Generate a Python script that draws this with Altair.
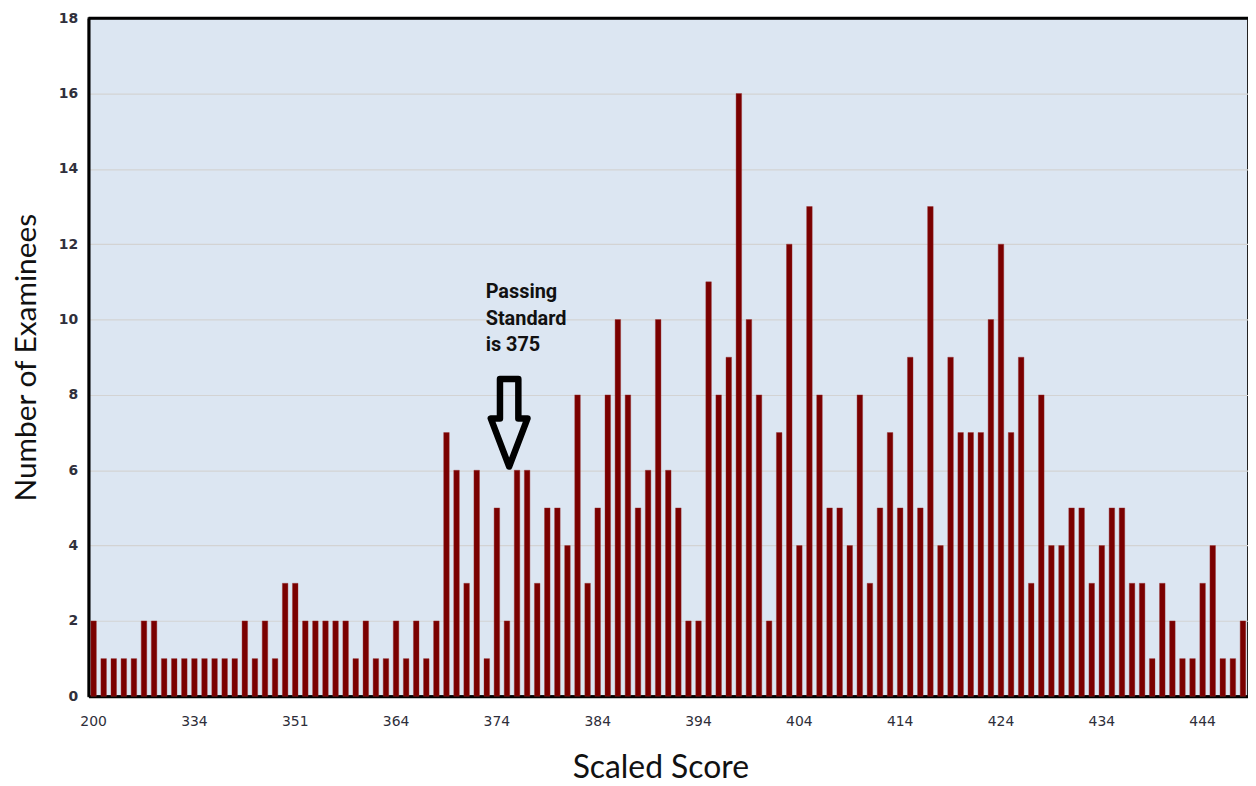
import altair as alt
import pandas as pd

scores = [200, 305, 312, 318, 322, 325, 327, 329, 331, 333,
          334, 335, 337, 339, 341, 343, 345, 347, 348, 350,
          351, 352, 353, 355, 356, 357, 359, 360, 361, 363] + list(range(364, 449))

counts = [2, 1, 1, 1, 1, 2, 2, 1, 1, 1, 1, 1, 1, 1, 1, 2, 1, 2, 1, 3, 3, 2, 2, 2, 2, 2, 1, 2, 1,
          1, 2, 1, 2, 1, 2, 7, 6, 3, 6, 1, 5, 2, 6, 6, 3, 5, 5, 4, 8, 3, 5, 8, 10, 8,
          5, 6, 10, 6, 5, 2, 2, 11, 8, 9, 16, 10, 8, 2, 7, 12, 4, 13, 8, 5, 5, 4, 8, 3, 5, 7, 5, 9, 5, 13, 4, 9,
          7, 7, 7, 10, 12, 7, 9, 3, 8, 4, 4, 5, 5, 3, 4, 5, 5, 3, 3, 1, 3, 2, 1, 1, 3, 4, 1, 1, 2]

tick_labels = [200, 334, 351, 364, 374, 384, 394, 404, 414, 424, 434, 444]

annot_text = ["Passing", "Standard", "is 375"]
annot_score = [372]
annot_y = [11]
arrow_score = [375]
arrow_y = [7.26]

df = pd.DataFrame({"score": scores, "count": counts})

W, H = 1166, 682

xscale = alt.Scale(paddingInner=0.45, paddingOuter=0.225, domain=scores)
yscale = alt.Scale(domain=[0, 18], nice=False)

bars = alt.Chart(df).mark_bar(color="#7a0000", stroke="#9a3030", strokeWidth=0.4).encode(
    x=alt.X("score:O", scale=xscale, sort=None,
            axis=alt.Axis(values=tick_labels, labelAngle=0, ticks=False, labelPadding=18,
                          labelFont="DejaVu Sans", labelFontSize=14, labelColor="#2e2e3a",
                          domainColor="#000000", domainWidth=3,
                          title="Scaled Score", titleFont="Lato", titleFontSize=32,
                          titleFontWeight="normal", titleColor="#111111",
                          titleX=575, titleAlign="center",
                          titleY=72, titleBaseline="middle", grid=False)),
    y=alt.Y("count:Q", scale=yscale,
            axis=alt.Axis(values=list(range(0, 19, 2)), ticks=False, labelPadding=11,
                          labelFont="DejaVu Sans", labelFontSize=14, labelFontWeight="bold",
                          labelColor="#30303c", domainColor="#000000", domainWidth=3,
                          gridColor="#d3d3d3", gridWidth=1.2,
                          title="Number of Examinees", titleFont="Lato", titleFontSize=30,
                          titleFontWeight="normal", titleColor="#111111",
                          titleX=-62, titleY=H / 2, titleAlign="center", titleBaseline="middle")),
)

top_rule = alt.Chart(pd.DataFrame({"y": [18]})).mark_rule(color="#000000", strokeWidth=3).encode(
    y=alt.Y("y:Q", scale=yscale)
)

text = alt.Chart(pd.DataFrame({"score": annot_score, "y": annot_y,
                               "label": ["\n".join(annot_text)]})).mark_text(
    align="left", baseline="top", font="Roboto", fontWeight="bold", fontSize=20,
    lineBreak="\n", lineHeight=27, dx=9, color="#111111"
).encode(
    x=alt.X("score:O", scale=xscale, sort=None),
    y=alt.Y("y:Q", scale=yscale),
    text="label:N",
)

arrow_path = "M -0.21 -1 L 0.21 -1 L 0.21 -0.1 L 0.42 -0.1 L 0 1 L -0.42 -0.1 L -0.21 -0.1 Z"
arrow = alt.Chart(pd.DataFrame({"score": arrow_score, "y": arrow_y})).mark_point(
    shape=arrow_path, size=88 * 88, filled=False, stroke="#000000", strokeWidth=6.5,
    strokeJoin="round", opacity=1
).encode(
    x=alt.X("score:O", scale=xscale, sort=None),
    xOffset=alt.value(5),
    y=alt.Y("y:Q", scale=yscale),
)

chart = alt.layer(bars, top_rule, text, arrow).properties(
    width=W, height=H,
    background="#ffffff",
    autosize=alt.AutoSizeParams(type="none"),
    padding={"left": 81, "top": 8, "right": 0, "bottom": 88},
).configure_view(
    fill="#dce6f2", stroke="#222222", strokeWidth=2
)

chart.save("out.html", embed_options={"renderer": "svg", "actions": False})
